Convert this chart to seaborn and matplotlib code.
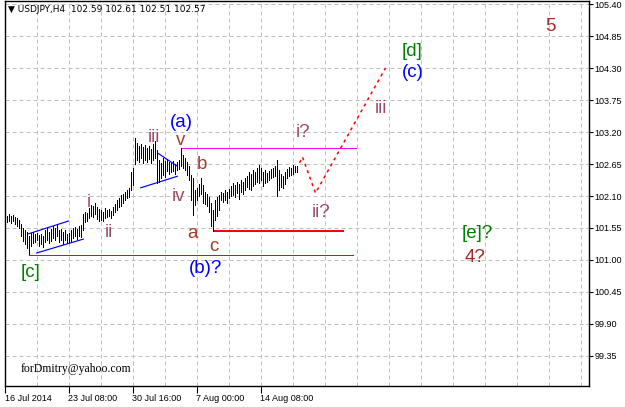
import matplotlib
matplotlib.use("Agg")
import matplotlib.pyplot as plt
import seaborn as sns
import pandas as pd

# ---------------- data ----------------
highs = [101.76, 101.79, 101.76, 101.77, 101.74, 101.72, 101.69, 101.62, 101.55, 101.52,
         101.48, 101.41, 101.46, 101.48, 101.45, 101.46, 101.43, 101.45, 101.41, 101.52,
         101.55, 101.48, 101.53, 101.58, 101.55, 101.60, 101.52, 101.53, 101.48, 101.52,
         101.45, 101.46, 101.52, 101.55, 101.57, 101.53, 101.58, 101.60, 101.79, 101.83,
         101.81, 101.89, 101.95, 101.93, 101.98, 101.91, 101.88, 101.86, 101.83, 101.89,
         101.86, 101.88, 101.84, 101.91, 101.96, 102.03, 102.07, 102.12, 102.13, 102.17,
         102.20, 102.24, 102.51, 102.58, 103.10, 103.01, 102.96, 102.99, 102.94, 102.98,
         102.93, 102.96, 102.91, 102.99, 103.05, 102.89, 102.72, 102.67, 102.75, 102.70,
         102.74, 102.68, 102.67, 102.70, 102.65, 102.68, 102.72, 102.93, 102.81, 102.75,
         102.68, 102.61, 102.46, 102.41, 102.20, 102.24, 102.31, 102.41, 102.29, 102.17,
         102.13, 102.08, 101.98, 101.86, 102.03, 102.08, 102.12, 102.17, 102.15, 102.20,
         102.17, 102.22, 102.27, 102.32, 102.29, 102.34, 102.31, 102.38, 102.34, 102.41,
         102.44, 102.51, 102.48, 102.55, 102.51, 102.58, 102.63, 102.58, 102.51, 102.55,
         102.50, 102.53, 102.56, 102.58, 102.61, 102.72, 102.55, 102.48, 102.44, 102.51,
         102.56, 102.60, 102.58, 102.63, 102.61, 102.61]
lows = [101.65, 101.67, 101.64, 101.67, 101.62, 101.58, 101.55, 101.41, 101.33, 101.28,
        101.21, 101.09, 101.24, 101.29, 101.31, 101.34, 101.24, 101.28, 101.22, 101.31,
        101.34, 101.29, 101.33, 101.38, 101.34, 101.41, 101.31, 101.34, 101.28, 101.34,
        101.29, 101.31, 101.33, 101.38, 101.41, 101.36, 101.41, 101.40, 101.52, 101.65,
        101.67, 101.72, 101.76, 101.74, 101.79, 101.71, 101.67, 101.69, 101.67, 101.72,
        101.74, 101.76, 101.72, 101.77, 101.83, 101.86, 101.91, 101.93, 101.98, 102.03,
        102.07, 102.08, 102.20, 102.29, 102.65, 102.72, 102.68, 102.75, 102.67, 102.72,
        102.68, 102.74, 102.67, 102.72, 102.75, 102.32, 102.34, 102.41, 102.46, 102.43,
        102.53, 102.48, 102.51, 102.53, 102.48, 102.55, 102.56, 102.61, 102.58, 102.55,
        102.46, 102.38, 102.03, 101.77, 101.95, 102.03, 102.10, 102.13, 101.98, 101.96,
        101.93, 101.83, 101.58, 101.50, 101.69, 101.76, 101.86, 102.03, 102.00, 102.03,
        101.98, 102.07, 102.10, 102.12, 102.08, 102.15, 102.05, 102.17, 102.13, 102.20,
        102.25, 102.22, 102.20, 102.27, 102.31, 102.34, 102.32, 102.38, 102.27, 102.32,
        102.34, 102.38, 102.41, 102.43, 102.44, 102.10, 102.20, 102.25, 102.24, 102.31,
        102.41, 102.44, 102.46, 102.48, 102.51, 102.51]

price_ticks = [99.35, 99.90, 100.45, 101.00, 101.55, 102.10, 102.65, 103.20,
               103.75, 104.30, 104.85, 105.40]
price_labels = ["99.35", "99.90", "100.45", "101.00", "101.55", "102.10", "102.65",
                "103.20", "103.75", "104.30", "104.85", "105.40"]
date_ticks = [-0.75, 31, 63, 95, 127]
date_labels = ["16 Jul 2014", "23 Jul 08:00", "30 Jul 16:00", "7 Aug 00:00", "14 Aug 08:00"]
grid_bars = [15, 31, 47, 63, 79, 95, 111, 127, 143, 159, 175, 191, 207, 223, 239, 255, 271, 287]

# drawn objects (bar index, price)
channel_upper = ([11, 31], [101.45, 101.67])
channel_lower = ([15, 38.5], [101.12, 101.36])
tri_upper = ([75.5, 85.5], [102.84, 102.61])
tri_lower = ([67, 85.5], [102.24, 102.44])
forecast_x = [146.5, 148, 154.5, 189.5]
forecast_y = [102.67, 102.77, 102.15, 104.30]
level_low = (101.09, 11, 173)
level_c = (101.50, 103.5, 168.5)
level_top = (102.93, 87.5, 174.5)

ROMAN = "#9c4a6a"
ABC = "#a33f2e"
BIG = "#a52a2a"
GREEN = "#008000"
BLUE = "#0000ff"
labels = [
    ("[c]", 12, 100.79, GREEN), ("i", 41, 101.98, ROMAN), ("ii", 51, 101.48, ROMAN),
    ("iii", 73.5, 103.11, ROMAN), ("(a)", 87.5, 103.37, BLUE), ("v", 87, 103.06, ABC),
    ("b", 97.5, 102.65, ABC), ("iv", 86, 102.10, ROMAN), ("a", 93, 101.46, ABC),
    ("c", 103.5, 101.24, ABC), ("(b)?", 99.5, 100.86, BLUE), ("i?", 148.5, 103.20, ROMAN),
    ("ii?", 157.5, 101.81, ROMAN), ("iii", 187, 103.61, ROMAN), ("[d]", 203, 104.58, GREEN),
    ("(c)", 203, 104.22, BLUE), ("5", 272, 105.01, BIG), ("[e]?", 235.5, 101.46, GREEN),
    ("4?", 234.5, 101.05, BIG),
]

# ---------------- figure ----------------
sns.set_theme(style="white")
plt.rcParams["font.family"] = ["Liberation Sans", "DejaVu Sans"]

W, H = 625, 407
fig = plt.figure(figsize=(W / 100, H / 100), dpi=100)
ax = fig.add_axes([5 / W, 1 - 386 / H, (589 - 5) / W, (386 - 1) / H])
ax.set_xlim(-0.75, 291.25)
ax.set_ylim(98.834, 105.452)

for p in price_ticks:
    ax.axhline(p, color="#c0c0c0", lw=0.72, ls=(0, (4, 3)), zorder=0)
for g in grid_bars:
    ax.axvline(g, color="#c0c0c0", lw=0.72, ls=(0, (4, 3)), zorder=0)

df = pd.DataFrame({"bar": range(len(highs)), "high": highs, "low": lows})
ax.vlines(df["bar"], df["low"], df["high"], color="black", lw=0.45, zorder=3,
          antialiased=False)

for xs, ys in (channel_upper, channel_lower, tri_upper, tri_lower):
    ax.plot(xs, ys, color=BLUE, lw=0.85, zorder=4)

for (lvl, x0, x1), col, w in ((level_low, "#ff0000", 0.72), (level_c, "#ff0000", 1.44),
                              (level_top, "#ff00ff", 0.72)):
    ax.hlines(lvl, x0, x1, color=col, lw=w, zorder=4, antialiased=False)

sns.lineplot(x=forecast_x, y=forecast_y, sort=False, ax=ax, color="#ff0000",
             lw=1.1, linestyle=(0, (2, 2.5)), zorder=4)

for txt, x, y, col in labels:
    ax.text(x, y, txt, color=col, fontsize=13.5, ha="center", va="center", zorder=5)

ax.text(7, 99.12, "forDmitry@yahoo.com", fontsize=8.5, family=["Liberation Serif"],
        ha="left", va="center", color="black")

fig.text(8 / W, 1 - 10 / H, "\u25bc USDJPY,H4  102.59 102.61 102.51 102.57", fontsize=6.5,
         ha="left", va="center", color="black", family=["DejaVu Sans"])

# axes styling
for s in ax.spines.values():
    s.set_color("black")
    s.set_linewidth(1.0)
ax.yaxis.tick_right()
ax.set_yticks(price_ticks)
ax.set_yticklabels(price_labels)
ax.set_xticks(date_ticks)
ax.set_xticklabels(date_labels, ha="left")
ax.tick_params(axis="y", which="both", right=True, left=False, length=3, width=0.8,
               pad=1, labelsize=6.5, colors="black")
ax.tick_params(axis="x", which="both", bottom=True, length=5, width=0.8, pad=1,
               labelsize=6.5, colors="black")
ax.set_xlabel("")
ax.set_ylabel("")
ax.grid(False)

fig.savefig("out.png", dpi=100, facecolor="white")
